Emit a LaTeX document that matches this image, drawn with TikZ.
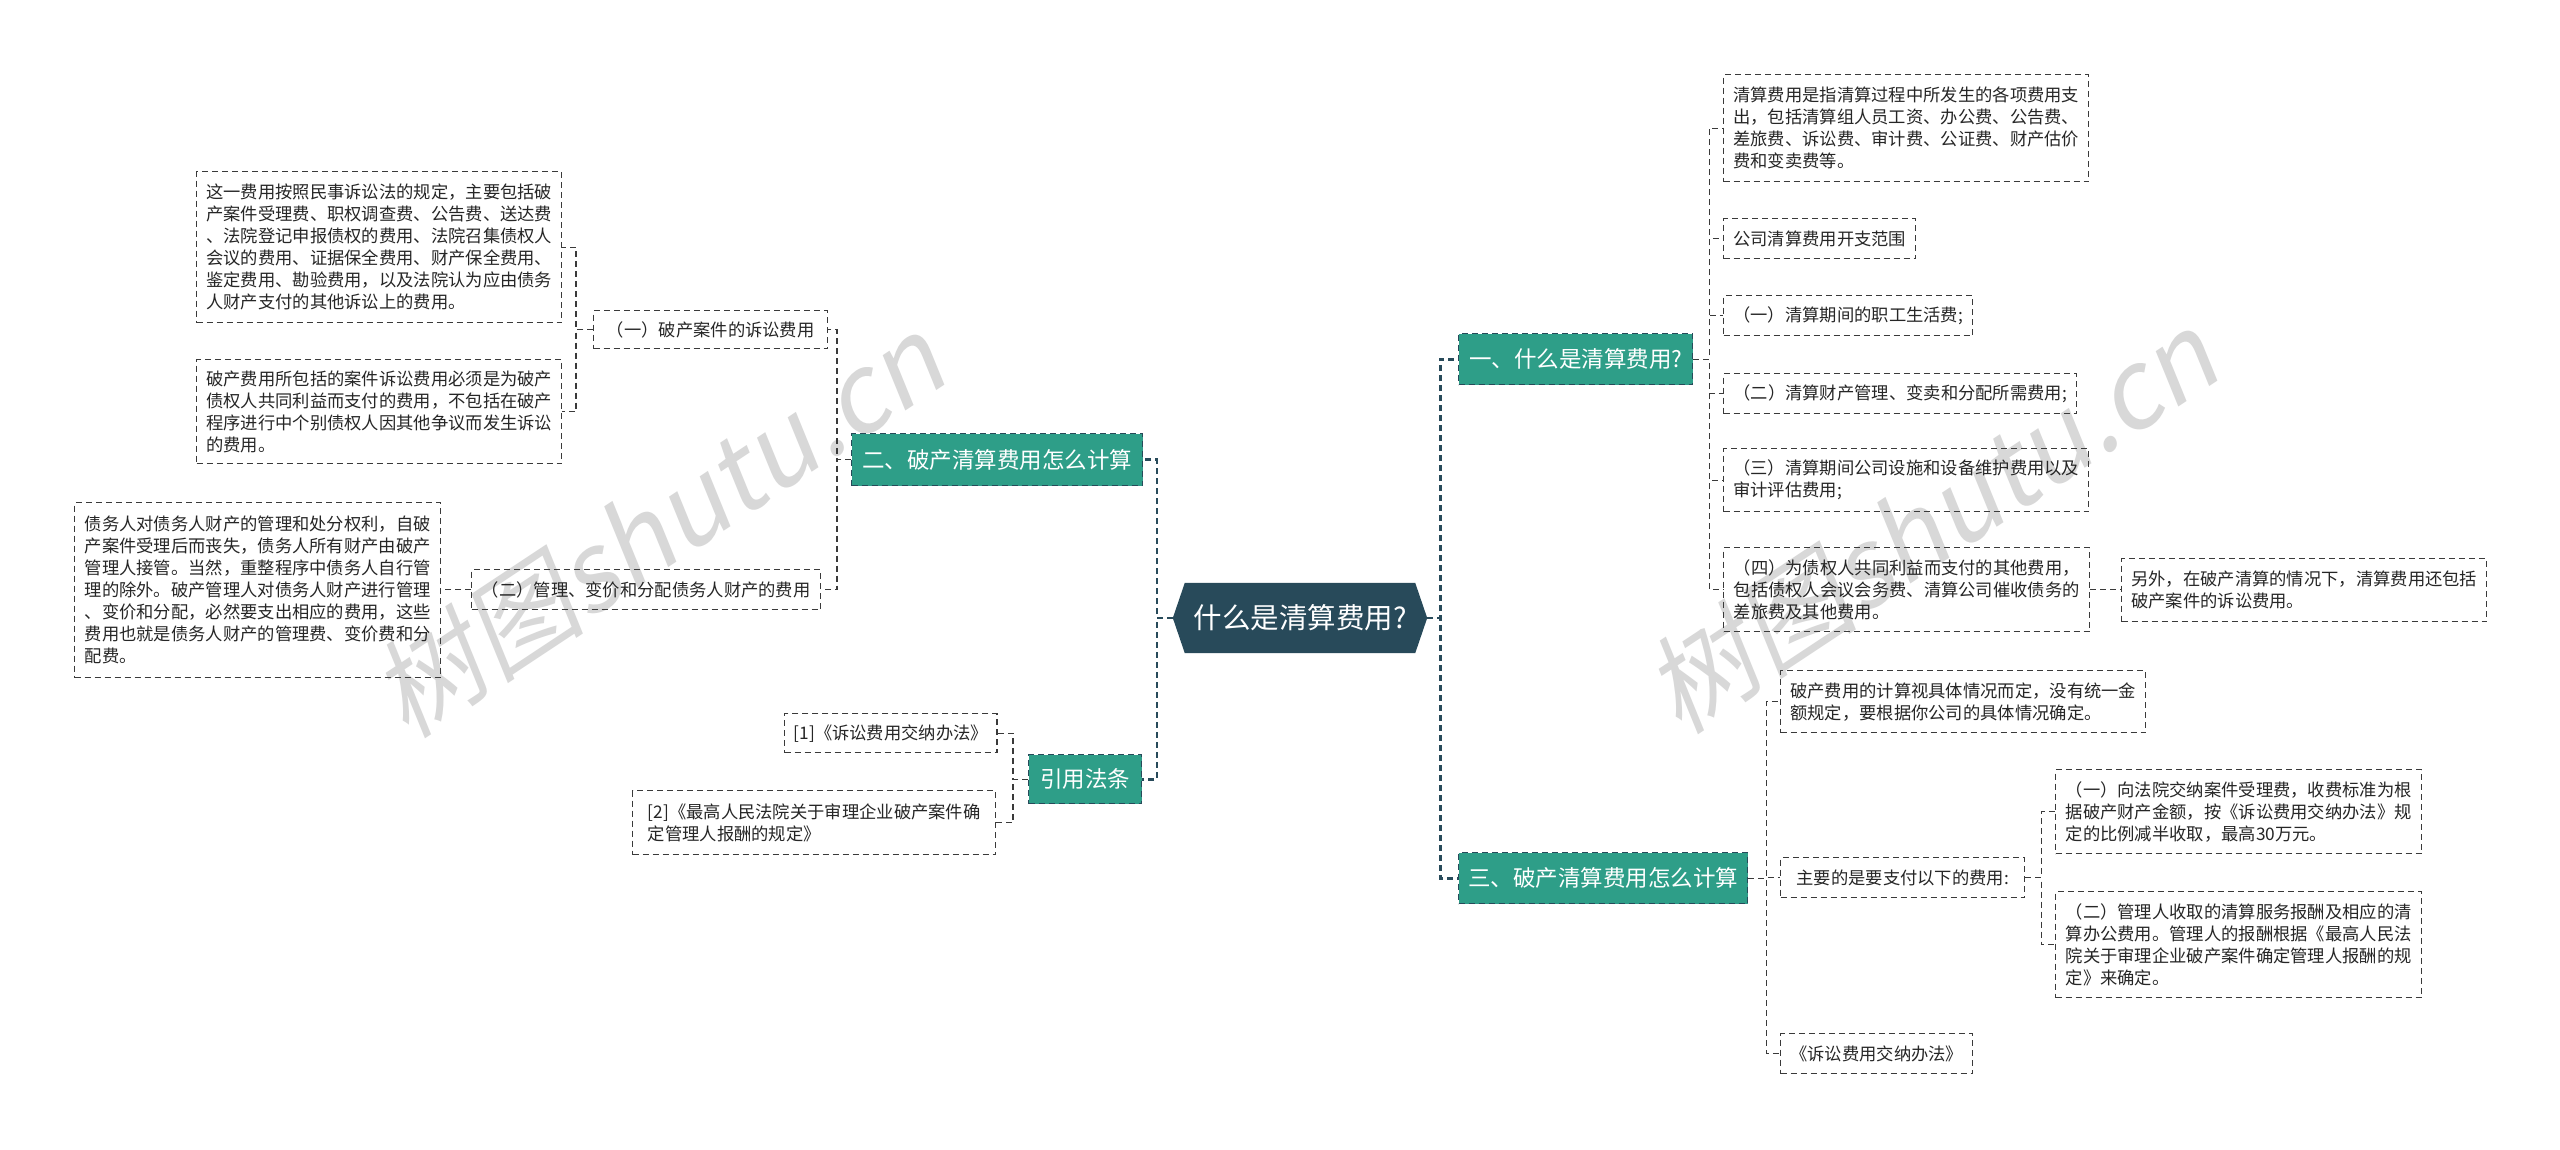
\documentclass[tikz,border=0pt]{standalone}
\usepackage{fontspec}
\newfontfamily\cjk{Noto Sans CJK SC}
\newfontfamily\wmfont[FakeSlant=0.2]{Noto Sans CJK SC}
\usetikzlibrary{backgrounds}
\definecolor{rootcol}{HTML}{284A5A}
\definecolor{tealcol}{HTML}{2E9E88}
\definecolor{linecol}{HTML}{3A3A3A}
\definecolor{wmcol}{HTML}{D8D8D8}
\tikzset{
  leaf/.style={draw=linecol, line width=1.4pt, dash pattern=on 6pt off 4pt,
    inner xsep=9pt, inner ysep=0pt, align=left, anchor=north west,
    font=\cjk\fontsize{17.3}{22}\selectfont, text=black!85},
  branch/.style={draw=rootcol, line width=1.4pt, dash pattern=on 6pt off 4pt,
    fill=tealcol, text=white, inner sep=0pt, anchor=north west,
    font=\cjk\fontsize{22.5}{27}\selectfont},
  rootnode/.style={text=white, inner sep=0pt, font=\cjk\fontsize{28.5}{34}\selectfont},
  mainlink/.style={draw=rootcol, line width=2.6pt, dash pattern=on 6pt off 4pt},
  sublink/.style={draw=linecol, line width=1.4pt, dash pattern=on 6pt off 4pt},
  watermark/.style={text=wmcol, font=\wmfont\fontsize{108}{108}\selectfont, rotate=33.5}
}
\begin{document}
\begin{tikzpicture}[x=1pt,y=-1pt]
\useasboundingbox (0,0) rectangle (2560,1149);

% watermarks
\node[watermark] (wm1) at (657,526) {树图shutu.cn};
\node[watermark] (wm2) at (1930,522) {树图shutu.cn};

% root
\node[rootnode, minimum width=230pt, minimum height=70pt] (root) at (1300,618) {什么是清算费用?};
\begin{scope}[on background layer]
\fill[white] (0,0) rectangle (2560,1149);
\fill[rootcol] ([xshift=-12pt]root.west) -- (root.north west) -- (root.north east)
  -- ([xshift=12pt]root.east) -- (root.south east) -- (root.south west) -- cycle;
\end{scope}

% branches
\node[branch, minimum width=234pt, minimum height=51pt] (B1) at (1458,333) {一、什么是清算费用?};
\node[branch, minimum width=291pt, minimum height=52pt] (B2) at (851,433) {二、破产清算费用怎么计算};
\node[branch, minimum width=289pt, minimum height=51pt] (B3) at (1458,852) {三、破产清算费用怎么计算};
\node[branch, minimum width=113pt, minimum height=49pt] (B4) at (1028,754) {引用法条};

% right side leaves of B1
\node[leaf, minimum width=365pt, minimum height=107pt] (A) at (1723,74)
  {清算费用是指清算过程中所发生的各项费用支\\出，包括清算组人员工资、办公费、公告费、\\差旅费、诉讼费、审计费、公证费、财产估价\\费和变卖费等。};
\node[leaf, minimum width=192pt, minimum height=40pt] (B) at (1723,218) {公司清算费用开支范围};
\node[leaf, minimum width=249pt, minimum height=40pt] (C) at (1723,295) {（一）清算期间的职工生活费;};
\node[leaf, minimum width=353pt, minimum height=40pt] (D) at (1723,373) {（二）清算财产管理、变卖和分配所需费用;};
\node[leaf, minimum width=365pt, minimum height=63pt] (E) at (1723,448)
  {（三）清算期间公司设施和设备维护费用以及\\审计评估费用;};
\node[leaf, minimum width=366pt, minimum height=84pt] (F) at (1723,547)
  {（四）为债权人共同利益而支付的其他费用，\\包括债权人会议会务费、清算公司催收债务的\\差旅费及其他费用。};
\node[leaf, minimum width=365pt, minimum height=63pt] (G) at (2121,558)
  {另外，在破产清算的情况下，清算费用还包括\\破产案件的诉讼费用。};

% right side leaves of B3
\node[leaf, minimum width=365pt, minimum height=62pt] (H) at (1780,670)
  {破产费用的计算视具体情况而定，没有统一金\\额规定，要根据你公司的具体情况确定。};
\node[leaf, minimum width=244pt, minimum height=40pt] (I) at (1780,857) {主要的是要支付以下的费用:};
\node[leaf, minimum width=192pt, minimum height=40pt] (J) at (1780,1033) {《诉讼费用交纳办法》};
\node[leaf, minimum width=366pt, minimum height=84pt] (K) at (2055,769)
  {（一）向法院交纳案件受理费，收费标准为根\\据破产财产金额，按《诉讼费用交纳办法》规\\定的比例减半收取，最高30万元。};
\node[leaf, minimum width=366pt, minimum height=106pt] (L) at (2055,891)
  {（二）管理人收取的清算服务报酬及相应的清\\算办公费用。管理人的报酬根据《最高人民法\\院关于审理企业破产案件确定管理人报酬的规\\定》来确定。};

% left side leaves of B2
\node[leaf, minimum width=234pt, minimum height=38pt] (P1) at (593,310) {（一）破产案件的诉讼费用};
\node[leaf, minimum width=349pt, minimum height=40pt] (P2) at (471,569) {（二）管理、变价和分配债务人财产的费用};
\node[leaf, minimum width=365pt, minimum height=151pt] (L1) at (196,171)
  {这一费用按照民事诉讼法的规定，主要包括破\\产案件受理费、职权调查费、公告费、送达费\\、法院登记申报债权的费用、法院召集债权人\\会议的费用、证据保全费用、财产保全费用、\\鉴定费用、勘验费用，以及法院认为应由债务\\人财产支付的其他诉讼上的费用。};
\node[leaf, minimum width=365pt, minimum height=104pt] (L2) at (196,359)
  {破产费用所包括的案件诉讼费用必须是为破产\\债权人共同利益而支付的费用，不包括在破产\\程序进行中个别债权人因其他争议而发生诉讼\\的费用。};
\node[leaf, minimum width=366pt, minimum height=175pt] (L3) at (74,502)
  {债务人对债务人财产的管理和处分权利，自破\\产案件受理后而丧失，债务人所有财产由破产\\管理人接管。当然，重整程序中债务人自行管\\理的除外。破产管理人对债务人财产进行管理\\、变价和分配，必然要支出相应的费用，这些\\费用也就是债务人财产的管理费、变价费和分\\配费。};

% left side leaves of B4
\node[leaf, minimum width=211pt, minimum height=39pt] (R1) at (784,713) {[1]《诉讼费用交纳办法》};
\node[leaf, minimum width=363pt, minimum height=64pt] (R2) at (632,790)
  {[2]《最高人民法院关于审理企业破产案件确\\定管理人报酬的规定》};

% connectors: root to branches
\draw[mainlink] ([xshift=12pt]root.east) -- ++(13,0) |- (B1.west);
\draw[mainlink] ([xshift=12pt]root.east) -- ++(13,0) |- (B3.west);
\draw[mainlink] ([xshift=-12pt]root.west) -- ++(-16,0) |- (B2.east);
\draw[mainlink] ([xshift=-12pt]root.west) -- ++(-16,0) |- (B4.east);

% B1 children
\foreach \c in {A,B,C,D,E,F}
  \draw[sublink] (B1.east) -- ++(16,0) |- (\c.west);
\draw[sublink] (F.east) -- (F.east -| G.west);

% B3 children
\foreach \c in {H,I,J}
  \draw[sublink] (B3.east) -- ++(18,0) |- (\c.west);
\foreach \c in {K,L}
  \draw[sublink] (I.east) -- ++(16,0) |- (\c.west);

% B2 children
\foreach \c in {P1,P2}
  \draw[sublink] (B2.west) -- ++(-14,0) |- (\c.east);
\foreach \c in {L1,L2}
  \draw[sublink] (P1.west) -- ++(-17,0) |- (\c.east);
\draw[sublink] (P2.west) -- (P2.west -| L3.east);

% B4 children
\foreach \c in {R1,R2}
  \draw[sublink] (B4.west) -- ++(-15,0) |- (\c.east);
\end{tikzpicture}
\end{document}
